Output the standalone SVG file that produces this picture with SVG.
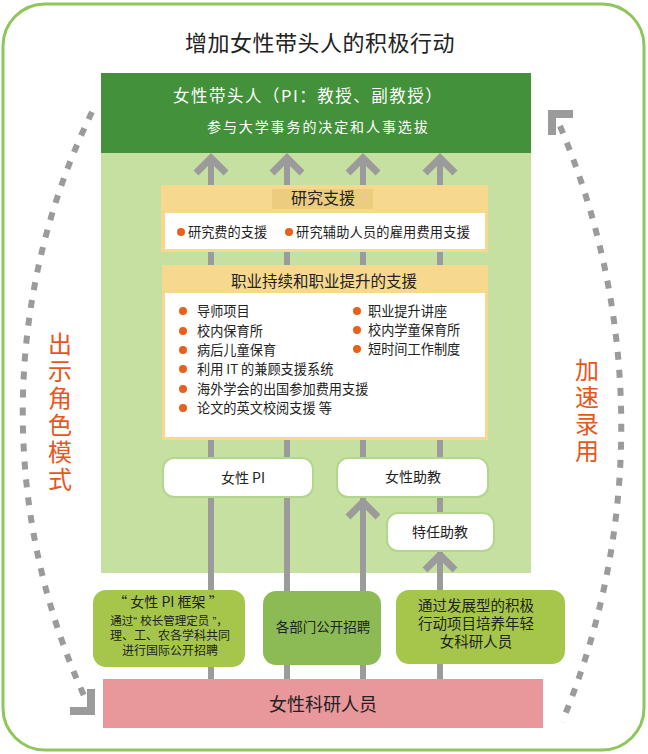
<svg xmlns="http://www.w3.org/2000/svg" xmlns:xlink="http://www.w3.org/1999/xlink" width="648" height="754" viewBox="0 0 648 754">
<style>
text{font-family:"Noto Sans CJK SC","Noto Sans",sans-serif;fill:#222;}
.ml{font-family:"Liberation Sans","Noto Sans CJK SC",sans-serif;}
.c{text-anchor:middle;}
.w{fill:#fff;}
.or{fill:#e8561c;font-size:24px;writing-mode:vertical-rl;letter-spacing:3px;}
.li{font-size:13.2px;}
.vline{stroke:#9b9b9b;stroke-width:6;fill:none;}
.chev{stroke:#9b9b9b;stroke-width:7;fill:none;stroke-linejoin:miter;}
.dash{stroke:#9b9b9b;stroke-width:6;fill:none;stroke-dasharray:8 10;}
.ah{fill:#9b9b9b;}
.wbox{fill:#fff;stroke:#b2d68c;stroke-width:2;}
.dot{fill:#e8601c;}
</style>
<defs>
<path id="chev" d="M-15,19 L0,4 L15,19"/>
</defs>
<rect id="frame" x="3" y="4" width="641" height="746" rx="42" fill="#fff" stroke="#8fc65c" stroke-width="3"/>
<g id="title"><text class="c" x="320" y="51" font-size="22" letter-spacing="0.5">增加女性带头人的积极行动</text></g>
<g id="panel"><rect x="101" y="153" width="430" height="420" fill="#c6e0a1"/></g>
<g id="leader">
<rect x="101" y="73" width="430" height="80" fill="#43913a"/>
<text class="w" x="173" y="102" font-size="16.5" letter-spacing="1.5">女性带头人（PI：教授、副教授）</text>
<text class="w" x="207" y="132" font-size="14" letter-spacing="1.9">参与大学事务的决定和人事选拔</text>
</g>
<g id="connectors">
<line class="vline" x1="211" y1="679" x2="211" y2="162"/>
<line class="vline" x1="287" y1="679" x2="287" y2="162"/>
<line class="vline" x1="363" y1="679" x2="363" y2="162"/>
<line class="vline" x1="440" y1="679" x2="440" y2="162"/>
<use xlink:href="#chev" class="chev" transform="translate(211,154)"/>
<use xlink:href="#chev" class="chev" transform="translate(287,154)"/>
<use xlink:href="#chev" class="chev" transform="translate(363,154)"/>
<use xlink:href="#chev" class="chev" transform="translate(440,154)"/>
<use xlink:href="#chev" class="chev" transform="translate(363,498)"/>
<use xlink:href="#chev" class="chev" transform="translate(440,551)"/>
<path class="dash" d="M92,112 A686,686 0 0 0 86,700"/>
<polygon class="ah" points="95,689 95,715 70,715 70,707 87,707 87,689"/>
<path class="dash" d="M560,126 A767,767 0 0 1 562,722"/>
<polygon class="ah" points="548,110 573,110 573,118 556,118 556,135 548,135"/>
</g>
<g id="research">
<rect x="161" y="185" width="327" height="67" fill="#f6d98e"/>
<rect x="272" y="189" width="101" height="20" fill="#eccd80"/>
<text class="c" x="323" y="204" font-size="16">研究支援</text>
<rect x="165" y="213" width="320" height="36" fill="#fff"/>
<circle class="dot" cx="181" cy="232" r="4"/>
<text class="li" x="188" y="237">研究费的支援</text>
<circle class="dot" cx="289" cy="232" r="4"/>
<text class="li" x="296" y="237" letter-spacing="0.2">研究辅助人员的雇用费用支援</text>
</g>
<g id="career">
<rect x="162" y="265" width="326" height="175" fill="#f6d98e"/>
<text class="c" x="324" y="287" font-size="15.5">职业持续和职业提升的支援</text>
<rect x="165" y="293" width="320" height="144" fill="#fff"/>
<circle class="dot" cx="183" cy="311" r="4"/><text class="li" x="197" y="316">导师项目</text>
<circle class="dot" cx="183" cy="331" r="4"/><text class="li" x="197" y="336">校内保育所</text>
<circle class="dot" cx="183" cy="350" r="4"/><text class="li" x="197" y="355">病后儿童保育</text>
<circle class="dot" cx="183" cy="369" r="4"/><text class="li" x="197" y="374">利用 IT 的兼顾支援系统</text>
<circle class="dot" cx="183" cy="389" r="4"/><text class="li" x="197" y="394">海外学会的出国参加费用支援</text>
<circle class="dot" cx="183" cy="408" r="4"/><text class="li" x="197" y="413">论文的英文校阅支援 等</text>
<circle class="dot" cx="357" cy="311" r="4"/><text class="li" x="368" y="316">职业提升讲座</text>
<circle class="dot" cx="357" cy="330" r="4"/><text class="li" x="368" y="335">校内学童保育所</text>
<circle class="dot" cx="357" cy="349" r="4"/><text class="li" x="368" y="354">短时间工作制度</text>
</g>
<g id="female-pi"><rect class="wbox" x="163" y="458" width="150" height="39" rx="11"/><text class="c" x="243" y="483" font-size="14">女性 PI</text></g>
<g id="female-assistant"><rect class="wbox" x="337" y="458" width="151" height="39" rx="11"/><text class="c" x="413" y="482" font-size="14">女性助教</text></g>
<g id="special-assistant"><rect class="wbox" x="387" y="513" width="107" height="38" rx="11"/><text class="c" x="440" y="537" font-size="14">特任助教</text></g>
<g id="pi-frame">
<rect x="93" y="590" width="152" height="77" rx="13" fill="#a6c64b"/>
<text class="c" x="168" y="607" font-size="14">“ 女性 PI 框架 ”</text>
<text class="c ml" font-size="12"><tspan x="169" y="625" font-size="11.5">通过“ 校长管理定员 ”，</tspan><tspan x="170" y="640">理、工、农各学科共同</tspan><tspan x="170" y="655">进行国际公开招聘</tspan></text>
</g>
<g id="dept-hiring">
<rect x="263" y="591" width="118" height="74" rx="13" fill="#8cbb56"/>
<text class="c" x="323" y="632" font-size="13.5">各部门公开招聘</text>
</g>
<g id="young-researchers">
<rect x="396" y="590" width="169" height="74" rx="13" fill="#a6c64b"/>
<text class="c ml" font-size="14.5"><tspan x="476" y="611">通过发展型的积极</tspan><tspan x="476" y="629">行动项目培养年轻</tspan><tspan x="476" y="647">女科研人员</tspan></text>
</g>
<g id="female-researchers">
<rect x="103" y="679" width="440" height="49" fill="#e8979a"/>
<text class="c" x="323" y="711" font-size="18">女性科研人员</text>
</g>
<g id="role-model"><text class="or" x="60" y="332">出示角色模式</text></g>
<g id="accelerate"><text class="or" x="587" y="358">加速录用</text></g>
</svg>
